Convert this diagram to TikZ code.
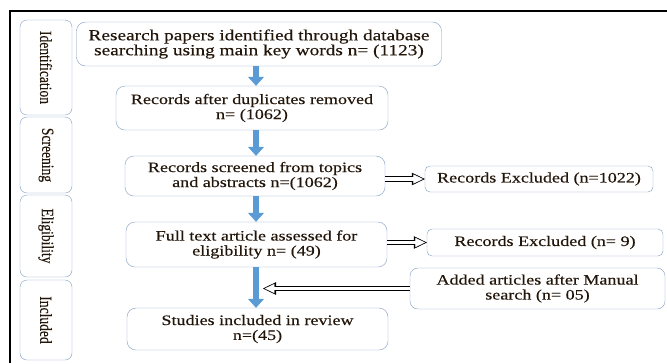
\documentclass[tikz,border=0pt]{standalone}
\usepackage{fontspec}
\setmainfont{Liberation Serif}[FakeStretch=1.25, FakeBold=0.3]
\newfontfamily\stagefont{Liberation Serif}[FakeStretch=0.8, FakeBold=0.3]
\usetikzlibrary{arrows.meta,calc}
\definecolor{boxline}{HTML}{7F9CC0}
\definecolor{flowblue}{HTML}{5B9BD5}
\definecolor{txt}{HTML}{22150A}
\tikzset{stage/.style={draw=boxline, rounded corners=7bp, rotate=-90, minimum height=52bp, inner sep=0pt, text=txt, font=\stagefont\fontsize{17}{17}\selectfont}}
\tikzset{mainbox/.style={draw=boxline, rounded corners=9bp, align=center, inner sep=0pt, text=txt, font=\fontsize{14.5}{15}\selectfont}}
\tikzset{sidebox/.style={mainbox, rounded corners=5bp}}
\tikzset{down/.style={draw=flowblue, line width=6bp, -{Triangle[width=16bp, length=9bp, line width=0.5bp]}}}
\tikzset{hollow/.style={line width=5.4bp, -{Triangle[width=12.5bp, length=13bp, line width=0.4bp]},
  postaction={draw=white, line width=3.4bp, -{Triangle[width=9bp, length=9.6bp, line width=0.4bp]}, shorten >=1.8bp}}}

\begin{document}
\begin{tikzpicture}[x=1bp, y=-1bp]
\useasboundingbox (0,0) rectangle (667,363);
% frame
\draw[line width=2.5bp] (10,363) -- (10,11) -- (667,11);

% stages
\node (ident) at (46,67.5)[stage, minimum width=95bp]{Identification};
\node (scrn) at (46,155)[stage, minimum width=76bp]{Screening};
\node (elig) at (46,236)[stage, minimum width=82bp]{Eligibility};
\node (inclu) at (46,320)[stage, minimum width=80bp]{Included};

% main column
\node (papers) at (259,44)[mainbox, minimum width=365bp, minimum height=44bp, font=\fontsize{15.5}{15}\selectfont]{Research papers identified through database\\searching using main key words n= (1123)};
\node (dupl) at (252,108)[mainbox, minimum width=272bp, minimum height=44bp]{Records after duplicates removed\\n= (1062)};
\node (screen) at (255,176)[mainbox, minimum width=260bp, minimum height=40bp]{Records screened from topics\\and abstracts n=(1062)};
\node (full) at (256.5,244.5)[mainbox, minimum width=261bp, minimum height=45bp]{Full text article assessed for\\eligibility n= (49)};
\node (incl) at (257.5,329)[mainbox, minimum width=261bp, minimum height=42bp]{Studies included in review\\n=(45)};

% side boxes
\node (excl1) at (539,179)[sidebox, minimum width=228bp, minimum height=26bp]{Records Excluded (n=1022)};
\node (excl2) at (545,242.5)[sidebox, minimum width=236bp, minimum height=27bp]{Records Excluded (n= 9)};
\node (added) at (537.5,288.5)[sidebox, rounded corners=8bp, minimum width=255bp, minimum height=41bp]{Added articles after Manual\\search (n= 05)};

\coordinate (spine) at (256,0);
\coordinate (join) at (263,0);

\draw[down] (papers.south -| spine) -- (dupl.north -| spine);
\draw[down] (dupl.south -| spine) -- (screen.north -| spine);
\draw[down] (screen.south -| spine) -- (full.north -| spine);
\draw[down] (full.south -| spine) -- (incl.north -| spine);

\draw[hollow] (screen.east |- excl1) -- (excl1.west);
\draw[hollow] (full.east |- excl2) -- (excl2.west);
\draw[hollow] (added.west) -- (added.west -| join);
\end{tikzpicture}
\end{document}
